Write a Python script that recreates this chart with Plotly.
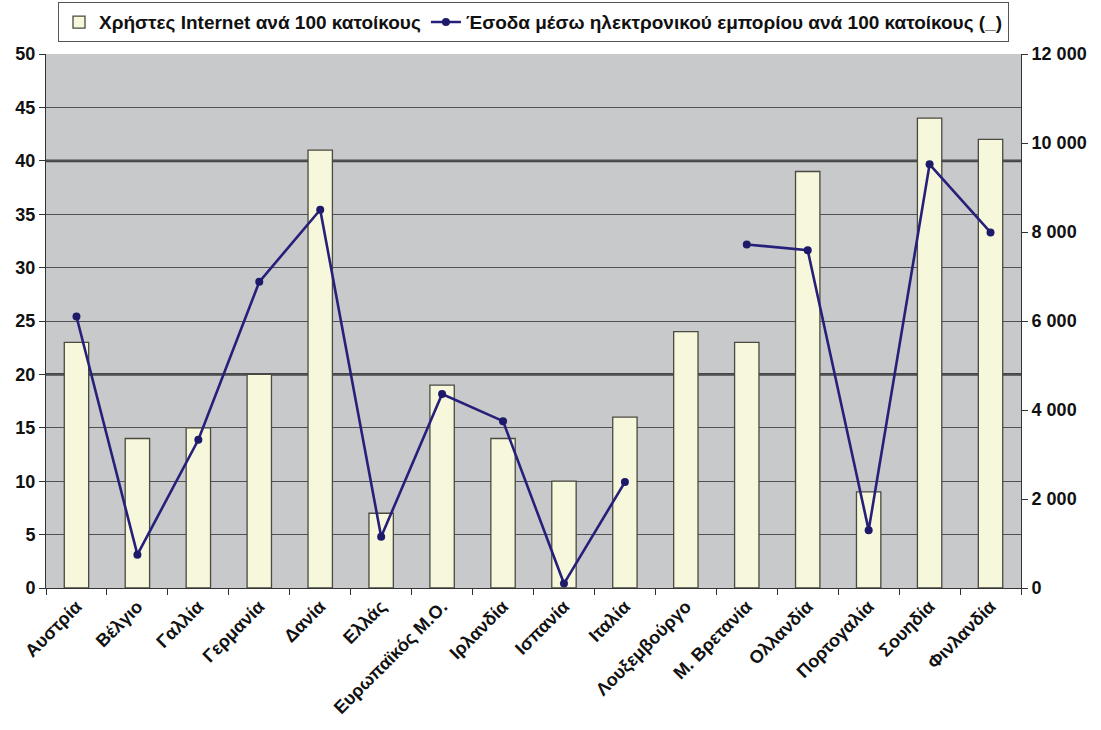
import plotly.graph_objects as go

# Χώρες / κατηγορίες
countries = [
    "Αυστρία", "Βέλγιο", "Γαλλία", "Γερμανία", "Δανία", "Ελλάς",
    "Ευρωπαϊκός Μ.Ο.", "Ιρλανδία", "Ισπανία", "Ιταλία", "Λουξεμβούργο",
    "Μ. Βρετανία", "Ολλανδία", "Πορτογαλία", "Σουηδία", "Φινλανδία",
]

# Χρήστες Internet ανά 100 κατοίκους (αριστερός άξονας)
internet_users = [23, 14, 15, 20, 41, 7, 19, 14, 10, 16, 24, 23, 39, 9, 44, 42]

# Έσοδα ηλεκτρονικού εμπορίου ανά 100 κατοίκους (δεξιός άξονας), χωρίς τιμή για Λουξεμβούργο
ecommerce_revenue = [6100, 750, 3330, 6880, 8500, 1150, 4360, 3750, 100, 2380,
                     None, 7720, 7590, 1300, 9520, 7990]

left_ticks = list(range(0, 51, 5))
right_ticks = list(range(0, 12001, 2000))
# βαρύτερες γραμμές πλέγματος του αριστερού άξονα
heavy_rules = [20, 40]

FONT = "Liberation Sans, Arial, sans-serif"
INK = "#111111"
GRID = "#4f5152"
TICKFONT = dict(family=FONT, size=18, color=INK, weight="bold")

fig = go.Figure()

fig.add_trace(go.Bar(
    x=countries,
    y=internet_users,
    name="Χρήστες Internet ανά 100 κατοίκους",
    marker=dict(color="#F6F7DB", line=dict(color="#4a4a40", width=1.3)),
    yaxis="y",
))

fig.add_trace(go.Scatter(
    x=countries,
    y=ecommerce_revenue,
    name="Έσοδα μέσω ηλεκτρονικού εμπορίου ανά 100 κατοίκους (_)",
    mode="lines+markers",
    connectgaps=False,
    line=dict(color="#26207A", width=2.6),
    marker=dict(color="#1E1A6A", size=8, symbol="circle"),
    yaxis="y2",
))

for level in heavy_rules:
    fig.add_shape(
        type="line", xref="paper", yref="y",
        x0=0, x1=1, y0=level, y1=level,
        line=dict(color="#444647", width=2.8),
        layer="below",
    )

fig.update_layout(
    width=1101,
    height=730,
    margin=dict(l=46, r=80, t=54, b=142, autoexpand=False),
    paper_bgcolor="white",
    plot_bgcolor="#C7C9CA",
    separators=". ",
    font=dict(family=FONT, size=18, color=INK),
    bargap=0.6,
    showlegend=True,
    legend=dict(
        orientation="h",
        x=0.5, xanchor="center",
        y=1.097, yanchor="top",
        bgcolor="white",
        bordercolor="#555555",
        borderwidth=1,
        font=dict(family=FONT, size=19, color=INK, weight="bold"),
        itemwidth=30,
        tracegroupgap=0,
    ),
    xaxis=dict(
        type="category",
        range=[-0.5, len(countries) - 0.5],
        tickangle=-45,
        ticks="outside",
        tickson="boundaries",
        ticklen=6,
        tickcolor="#333333",
        showline=True,
        linecolor="#333333",
        linewidth=1,
        showgrid=False,
        tickfont=TICKFONT,
    ),
    yaxis=dict(
        range=[0, 50],
        tickvals=left_ticks,
        ticks="outside",
        ticklen=6,
        tickcolor="#333333",
        showline=True,
        linecolor="#333333",
        linewidth=1,
        showgrid=True,
        gridcolor=GRID,
        gridwidth=1.2,
        zeroline=False,
        tickfont=TICKFONT,
    ),
    yaxis2=dict(
        range=[0, 12000],
        tickvals=right_ticks,
        tickformat=",d",
        overlaying="y",
        side="right",
        ticks="outside",
        ticklen=6,
        tickcolor="#333333",
        showline=True,
        linecolor="#333333",
        linewidth=1,
        showgrid=False,
        zeroline=False,
        tickfont=TICKFONT,
    ),
)

fig.write_html("out.html")
